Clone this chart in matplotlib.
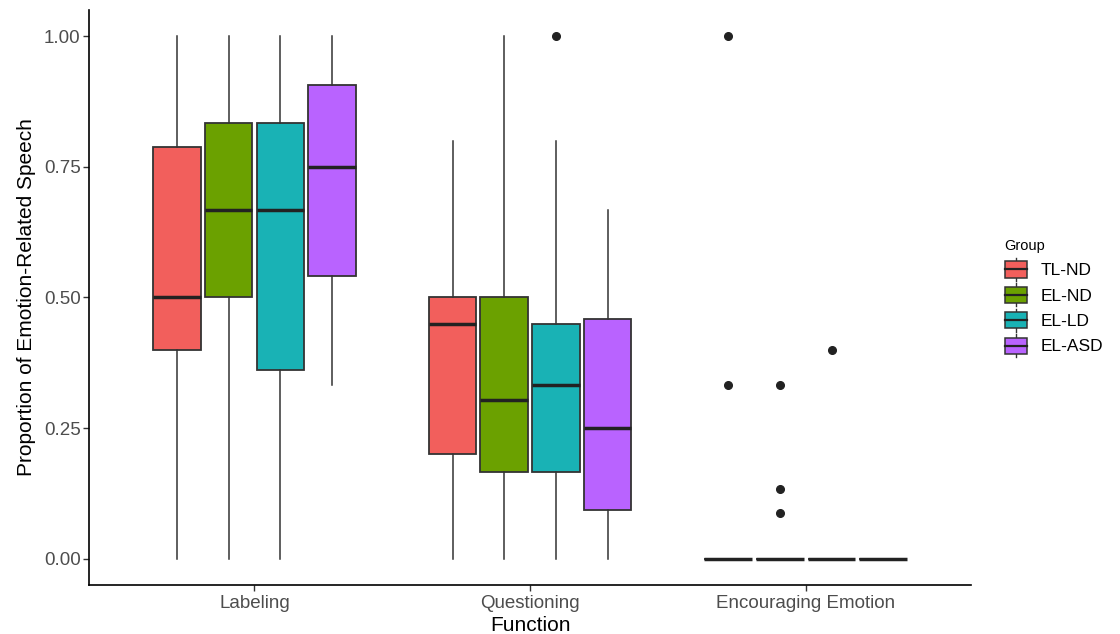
import matplotlib
matplotlib.use("Agg")
import matplotlib.pyplot as plt
from matplotlib.legend_handler import HandlerBase
from matplotlib.patches import Patch, Rectangle
from matplotlib.lines import Line2D

plt.rcParams['font.family'] = ['Liberation Sans', 'DejaVu Sans']

FUNCTIONS = ['Labeling', 'Questioning', 'Encouraging Emotion']
GROUPS = ['TL-ND', 'EL-ND', 'EL-LD', 'EL-ASD']
COLORS = ['#F25F5C', '#6BA100', '#19B2B5', '#B963FF']

# box statistics, one row per function, one column per group
WHISLO = [[0.0, 0.0, 0.0, 0.333],
          [0.0, 0.0, 0.0, 0.0],
          [0.0, 0.0, 0.0, 0.0]]
Q1 = [[0.40, 0.50, 0.362, 0.542],
      [0.20, 0.167, 0.167, 0.093],
      [0.0, 0.0, 0.0, 0.0]]
MEDIAN = [[0.50, 0.667, 0.667, 0.75],
          [0.45, 0.303, 0.333, 0.25],
          [0.0, 0.0, 0.0, 0.0]]
Q3 = [[0.788, 0.833, 0.833, 0.906],
      [0.50, 0.50, 0.45, 0.458],
      [0.0, 0.0, 0.0, 0.0]]
WHISHI = [[1.0, 1.0, 1.0, 1.0],
          [0.80, 1.0, 0.80, 0.667],
          [0.0, 0.0, 0.0, 0.0]]
FLIERS = [[[], [], [], []],
          [[], [], [1.0], []],
          [[1.0, 0.333], [0.333, 0.133, 0.087], [0.40], []]]

DODGE = 0.1875
BOX_W = 0.172


class BoxKey(HandlerBase):
    # small boxplot glyph for the legend keys
    def create_artists(self, legend, orig, xd, yd, w, h, fs, trans):
        face = orig.get_facecolor()
        x0, y0 = -xd, -yd
        whisk = Line2D([x0 + w / 2] * 2, [y0 + 0.02 * h, y0 + 0.98 * h],
                       color='#333333', lw=1.0, transform=trans)
        box = Rectangle((x0, y0 + 0.16 * h), w, 0.68 * h, facecolor=face,
                        edgecolor='#333333', lw=1.1, transform=trans)
        mid = Line2D([x0, x0 + w], [y0 + h / 2] * 2, color='#222222',
                     lw=1.6, transform=trans)
        return [whisk, box, mid]


fig = plt.figure(figsize=(11.2, 6.34), dpi=100)
ax = fig.add_axes([0.0795, 0.0773, 0.7875, 0.907])

for g, group in enumerate(GROUPS):
    stats = []
    positions = []
    for f in range(len(FUNCTIONS)):
        stats.append({'med': MEDIAN[f][g], 'q1': Q1[f][g], 'q3': Q3[f][g],
                      'whislo': WHISLO[f][g], 'whishi': WHISHI[f][g],
                      'fliers': FLIERS[f][g]})
        positions.append(f + 1 + (g - 1.5) * DODGE)
    ax.bxp(stats, positions=positions, widths=BOX_W, patch_artist=True,
           showcaps=False, manage_ticks=False,
           boxprops=dict(facecolor=COLORS[g], edgecolor='#333333', lw=1.3),
           medianprops=dict(color='#222222', lw=2.5, solid_capstyle='butt'),
           whiskerprops=dict(color='#333333', lw=1.1),
           flierprops=dict(marker='o', markerfacecolor='#222222',
                           markeredgecolor='#222222', markersize=5.5))

ax.set_xlim(0.4, 3.6)
ax.set_ylim(-0.05, 1.05)
ax.set_xticks(range(1, len(FUNCTIONS) + 1))
ax.set_xticklabels(FUNCTIONS)
ax.set_yticks([0, 0.25, 0.5, 0.75, 1.0])
ax.set_yticklabels(['0.00', '0.25', '0.50', '0.75', '1.00'])
ax.tick_params(axis='both', colors='#333333', labelcolor='#4D4D4D',
               labelsize=13.5, length=4, width=1)
ax.tick_params(axis='x', pad=3)
ax.tick_params(axis='y', pad=2)

for side in ['top', 'right']:
    ax.spines[side].set_visible(False)
for side in ['left', 'bottom']:
    ax.spines[side].set_linewidth(1.2)
    ax.spines[side].set_color('black')

ax.set_xlabel('Function', fontsize=15, labelpad=3)
ax.set_ylabel('Proportion of Emotion-Related Speech', fontsize=15, labelpad=6)

handles = [Patch(facecolor=c) for c in COLORS]
leg = fig.legend(handles, GROUPS, title='Group', loc='center left',
                 bbox_to_anchor=(0.883, 0.527), frameon=False,
                 handler_map={Patch: BoxKey()}, fontsize=12.5,
                 title_fontsize=10.5, alignment='left',
                 handlelength=1.3, handleheight=1.75, labelspacing=0.08,
                 handletextpad=0.8)
leg.get_title().set_position((0, 3))

fig.savefig('out.png', dpi=100, facecolor='white')
